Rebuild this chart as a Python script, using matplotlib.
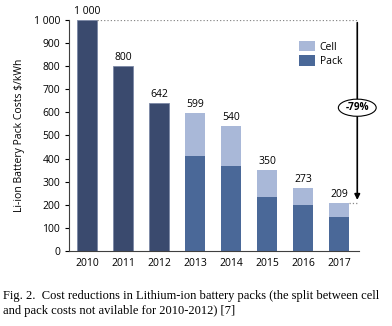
import numpy as np
import matplotlib
matplotlib.use("Agg")
import matplotlib.pyplot as plt
from matplotlib.patches import Ellipse

years = ["2010", "2011", "2012", "2013", "2014", "2015", "2016", "2017"]
totals = [1000, 800, 642, 599, 540, 350, 273, 209]
# pack share only known from 2013 on
pack = [None, None, None, 411, 368, 234, 199, 147]

DARK = "#3a4a6e"
PACK = "#4a6898"
CELL = "#a9b8d8"

plt.rcParams['font.family'] = ['Open Sans', 'DejaVu Sans']

fig = plt.figure(figsize=(3.92, 3.26), dpi=100)
ax = fig.add_axes([0.176, 0.23, 0.74, 0.709])

x = np.arange(len(years))
w = 0.55
for i, (t, p) in enumerate(zip(totals, pack)):
    if p is None:
        ax.bar(x[i], t, w, color=DARK, edgecolor="#7b88a6", linewidth=0.6)
    else:
        ax.bar(x[i], p, w, color=PACK)
        ax.bar(x[i], t - p, w, bottom=p, color=CELL)
    ax.text(x[i], t + 12, f"{t:,}".replace(",", " "), ha="center", va="bottom", fontsize=7.5)

# legend
ax.bar(0, 0, 0, color=CELL, label="Cell")
ax.bar(0, 0, 0, color=PACK, label="Pack")
ax.legend(loc="upper left", bbox_to_anchor=(0.76, 0.95), frameon=False, fontsize=7.5,
          handlelength=1.6, handleheight=1.2, handletextpad=0.4, labelspacing=0.25)

# reduction arrow
xa = 7.5
ax.plot([0 + w / 2, xa], [1000, 1000], ls=":", color="#888888", lw=0.9)
ax.plot([7 + w / 2, xa], [209, 209], ls=":", color="#888888", lw=0.9)
ax.annotate("", xy=(xa, 209), xytext=(xa, 1000),
            arrowprops=dict(arrowstyle="-|>", color="black", lw=1.2, mutation_scale=8),
            annotation_clip=False)
ax.add_patch(Ellipse((xa, 620), 1.05, 74, fc="white", ec="black", lw=0.8, clip_on=False, zorder=5))
ax.text(xa, 620, "-79%", ha="center", va="center", fontsize=7.2, fontweight="bold", zorder=6)

ax.set_xlim(-0.5, 7.55)
ax.set_ylim(0, 1000)
ax.set_xticks(x)
ax.set_xticklabels(years, fontsize=7.5)
ax.set_yticks(range(0, 1001, 100))
ax.set_yticklabels([f"{v:,}".replace(",", " ") for v in range(0, 1001, 100)], fontsize=7.5)
ax.tick_params(axis="x", length=0, pad=5)
ax.tick_params(axis="y", length=3, width=0.8)
ax.spines["top"].set_visible(False)
ax.spines["right"].set_visible(False)
ax.spines["left"].set_color("#404040")
ax.spines["bottom"].set_color("#404040")
ax.set_ylabel("Li-ion Battery Pack Costs $/kWh", fontsize=7.5, labelpad=6)

fig.text(0.008, 0.082, "Fig. 2.  Cost reductions in Lithium-ion battery packs (the split between cell",
         family="Liberation Serif", fontsize=9)
fig.text(0.008, 0.038, "and pack costs not avilable for 2010-2012) [7]",
         family="Liberation Serif", fontsize=9)

fig.savefig("out.png", dpi=100)
